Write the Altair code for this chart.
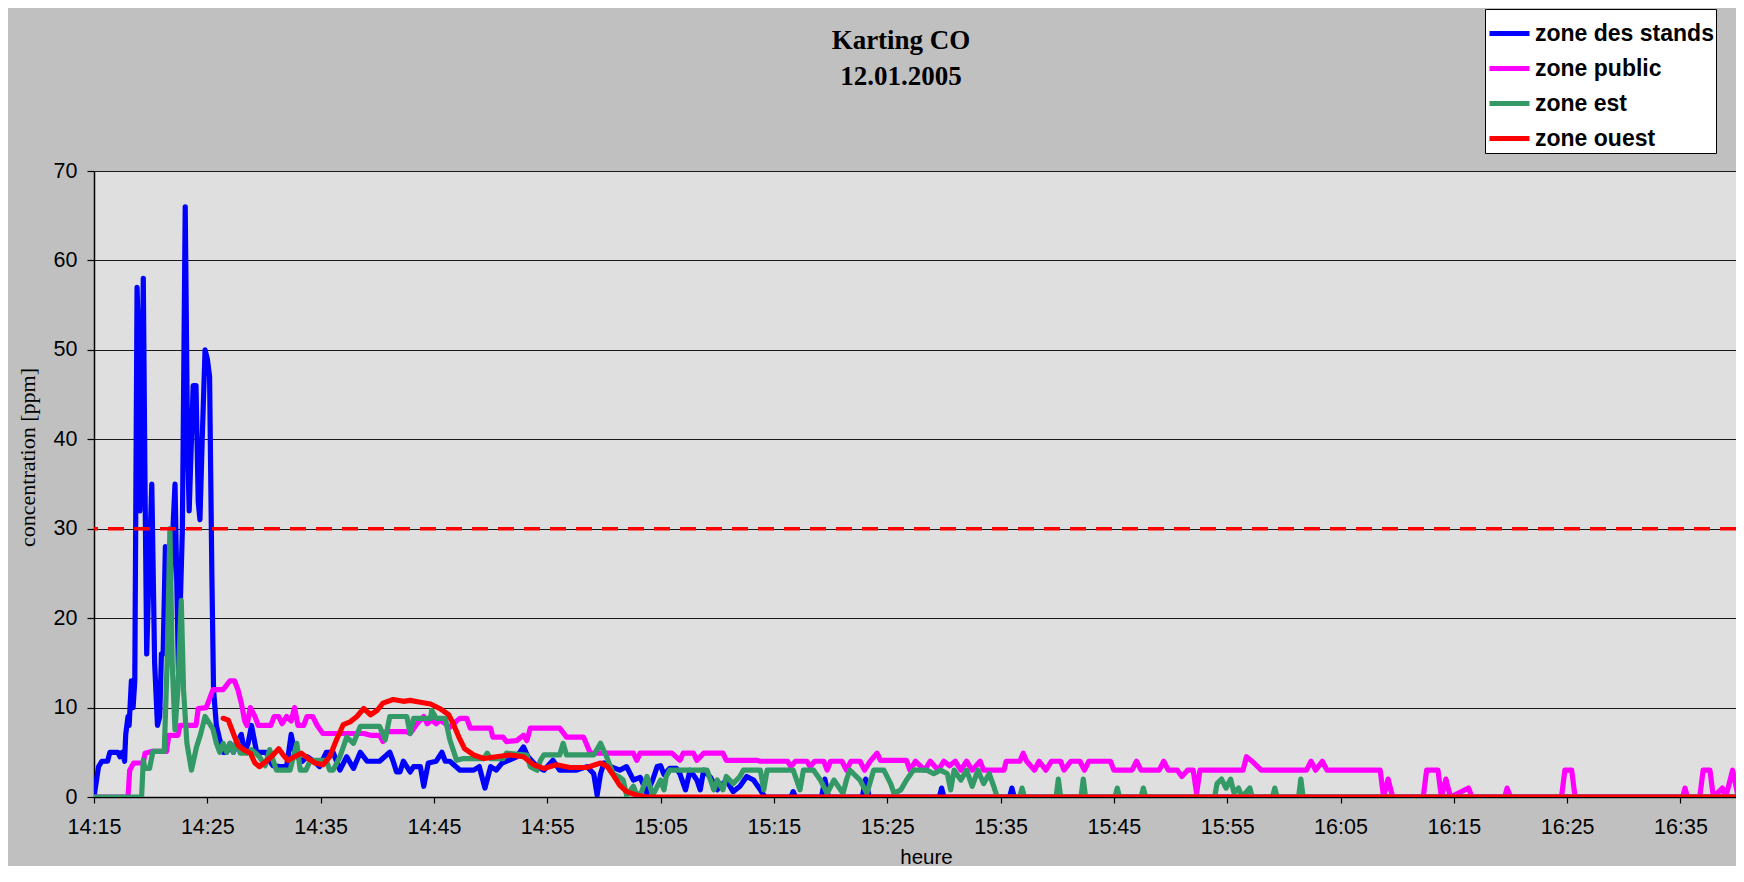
import altair as alt
import pandas as pd

series_names = ["zone des stands", "zone public", "zone est", "zone ouest"]
series_colors = ["#0000FF", "#FF00FF", "#339966", "#FF0000"]

# (minutes after 14:15, ppm)
stands = [(0,0),(0.4,3.4),(0.7,4),(1.2,4),(1.4,5),(2.1,5),(2.3,4.5),(2.5,5),(2.7,4),(2.8,7),(3.0,9),(3.1,8),
          (3.3,13),(3.45,10),(3.6,13),(3.8,57),(3.95,50),(4.05,32),(4.2,40),(4.35,58),(4.5,35),(4.65,16),(4.85,25),
          (5.1,35),(5.35,15),(5.6,8),(5.8,9),(5.95,16),(6.1,16),(6.3,28),(6.6,20),(7.15,35),(7.45,14),(7.8,30),
          (8.05,66),(8.25,40),(8.4,32),(8.6,40),(8.75,46),(9.0,46),(9.2,33),(9.35,31),(9.55,40),(9.8,50),(10.0,49),
          (10.2,47),(10.4,25),(10.55,12),(10.8,8),(11.1,6.4),(11.4,5),(11.7,5),(12.0,6),(12.3,5),(12.6,6),(13.0,7),
          (13.3,5),(13.6,6),(13.9,8),(14.2,6),(14.35,5),(15.2,5),(15.5,4),(15.8,3.5),(16.4,3.4),(17.0,3.4),(17.4,7),
          (17.7,5),(17.9,4.5),(18.4,4),(18.8,4.5),(19.4,4),(19.9,3.4),(20.5,5),(21.1,5),(21.7,3),(22.3,4.5),
          (22.9,3.2),(23.5,5),(24.1,4),(25.2,4),(26.1,5),(26.4,4),(26.7,2.8),(27.0,2.8),(27.3,4),(27.9,2.8),
          (28.2,3.4),(28.8,3.4),(29.1,1.2),(29.5,3.8),(30.2,4),(30.7,5),(31.0,4),(31.4,4),(32.3,3),(33.5,3),
          (34.0,3.4),(34.5,1),(35.0,3.4),(35.5,3),(36.0,3.8),(36.4,4),(37.3,4.5),(37.9,5.6),(38.3,4.5),(39.1,3.4),
          (39.7,3),(40.5,4.1),(41.1,3),(42.0,3),(42.6,3),(43.5,3.4),(44.1,2.6),(44.4,0.2),(44.7,2.6),(45.0,3.8),
          (45.6,3.4),(46.4,3),(47.0,3.4),(47.6,1.9),(48.2,2.2),(48.8,0.4),(49.3,1.9),(49.7,3.4),(50.0,3.5),
          (50.3,2.5),(50.8,3.2),(51.4,3.2),(51.7,2.6),(52.2,0.8),(52.6,3),(53.2,1.9),(53.5,0.8),(53.8,3),
          (54.4,2.2),(55.0,0.8),(55.8,1.9),(56.4,0.6),(57.0,1.2),(57.6,2.3),(58.2,1.9),(58.8,0.8),(59.2,0),
          (61.5,0),(61.7,0.6),(61.9,0),(64.2,0),(64.5,2),(64.8,0),(67.8,0),(68.1,2),(68.4,0),(74.6,0),(74.8,1),
          (75.0,0),(80.8,0),(81.0,1),(81.2,0),(145.6,0)]

public = [(0,0),(3.0,0),(3.15,3),(3.5,3.8),(4.35,3.8),(4.5,4.9),(5.1,5.1),(6.4,5.1),(6.6,6.9),(7.4,6.9),(7.6,8),
          (9.0,8),(9.2,9.9),(9.9,10),(10.2,11),(10.5,12),(11.4,12),(12.0,13),(12.4,13),(12.7,12),(13.0,10.5),
          (13.3,8.5),(13.5,8),(13.8,10),(14.2,9),(14.5,8),(15.6,8),(15.9,9),(16.3,9),(16.6,8.2),(17.0,9),(17.4,8.5),
          (17.7,10),(18.0,8),(18.5,8),(18.8,9),(19.3,9),(19.7,8),(20.2,7.1),(23.8,7.1),(24.4,6.9),(25.2,6.9),
          (25.5,6.2),(25.8,7.3),(27.6,7.3),(27.9,7.1),(28.5,8.2),(28.8,8.6),(29.1,9),(29.4,8.2),(29.8,8.6),
          (30.2,8.2),(30.5,8.6),(31.0,8.2),(31.4,7.8),(32.0,8.5),(32.3,8.8),(32.9,8.8),(33.2,7.7),(35.0,7.7),
          (35.2,6.7),(36.1,6.7),(36.4,6.2),(37.3,6.3),(37.9,6.9),(38.2,6.3),(38.5,7.7),(41.1,7.7),(41.7,6.7),
          (43.2,6.7),(43.8,4.9),(47.6,4.9),(47.9,4.1),(48.2,4.9),(51.0,4.9),(51.7,4.1),(52.0,4.9),(52.9,4.9),
          (53.2,4.1),(53.8,4.9),(55.5,4.9),(55.8,4.1),(58.5,4.1),(58.8,4),(61.2,4),(61.5,3.4),(61.9,4),(62.9,4),
          (63.2,3.4),(63.6,4),(64.4,4),(64.7,3),(65.0,4),(66.0,4),(66.4,3),(66.8,4),(67.6,4),(68.0,3),(68.5,4),
          (69.1,4.9),(69.4,4.1),(71.7,4.1),(72.0,3),(72.5,4),(73.3,3),(73.8,4),(74.5,3),(75.0,4),(75.5,3.5),
          (76.0,4),(76.5,3),(77.0,4),(77.5,3),(78.2,4),(78.5,3),(80.3,3),(80.5,4),(81.7,4),(82.0,4.9),(82.3,4),
          (83.0,3),(83.4,4),(84.0,3),(84.5,4),(85.3,4),(85.6,3),(86.2,4),(87.0,4),(87.4,3),(87.8,4),(89.7,4),
          (90.0,3),(91.6,3),(92.0,4),(92.4,3),(94.0,3),(94.4,4),(94.8,3),(95.6,3),(96.0,2.3),(96.5,3),(97.0,3),
          (97.3,0.4),(97.6,3),(101.4,3),(101.7,4.5),(102.2,4),(103.0,3),(107.0,3),(107.4,4),(107.8,3),(108.4,4),
          (108.8,3),(113.5,3),(113.8,0),(114.2,2),(114.6,0),(117.3,0),(117.6,3),(118.6,3),(118.9,0),(119.3,2),
          (119.7,0),(121.3,1),(121.6,0),(124.5,0),(124.7,1),(125.0,0),(129.5,0),(129.8,3),(130.4,3),(130.7,0),
          (140.2,0),(140.4,1),(140.6,0),(141.7,0),(142.0,3),(142.6,3),(142.9,0),(143.7,1),(144.0,0),(144.6,3),
          (145.1,0),(145.6,0)]

est = [(0,0),(4.2,0),(4.35,4.1),(4.5,3.2),(4.9,3.2),(5.2,5.1),(6.2,5.1),(6.45,15),(6.7,30),(6.9,15),(7.15,7.5),
       (7.4,12),(7.7,22),(7.9,12),(8.2,6),(8.6,3),(9.05,5.6),(9.4,7),(9.8,9),(10.2,8.2),(10.5,7.6),(10.8,6),
       (11.1,5),(11.4,6),(11.7,5),(12.0,6),(12.3,5),(12.6,6.4),(12.9,4.9),(13.5,4.9),(13.9,5.3),(14.6,4.5),
       (15.1,3.5),(15.5,5.3),(16.1,3),(17.3,3),(17.6,4.5),(17.9,6),(18.2,3),(18.7,3),(19.1,4.1),(20.5,4.1),
       (20.8,3),(21.1,3),(21.7,4.5),(22.3,6.7),(22.9,6),(23.5,7.9),(25.2,7.9),(25.7,6.4),(26.1,9),(27.6,9),
       (27.9,7.1),(28.2,8.8),(29.7,8.8),(29.8,9.7),(30.2,8.8),(31.0,8.8),(31.4,6.4),(32.0,4.1),(32.6,4.3),
       (34.4,4.3),(34.7,4.9),(35.0,4.3),(36.1,4.3),(36.4,4.9),(38.2,4.7),(38.5,3.4),(39.1,3),(39.4,4.1),
       (39.7,4.7),(41.1,4.7),(41.4,6),(41.7,4.7),(44.1,4.7),(44.7,6),(45.3,4.3),(45.8,2.6),(46.4,2.2),(46.7,1.9),
       (47.0,0.2),(47.6,1.2),(47.9,0.2),(48.3,0.5),(48.8,2.3),(49.3,0.2),(50.0,1.9),(50.3,0.8),(50.5,2.3),
       (50.8,3),(54.1,3),(54.4,1.9),(54.7,0.8),(55.0,1.9),(55.5,0.8),(55.8,2.3),(56.4,1.5),(57.0,2.3),(57.3,3),
       (58.8,3),(59.1,0.8),(59.4,3),(61.7,3),(62.0,1.9),(62.3,0.8),(62.6,3),(63.5,3),(64.1,1.9),(64.7,0.4),
       (65.3,1.9),(66.1,0.4),(66.4,1.9),(66.7,3),(67.6,1.9),(68.2,0.4),(68.8,3),(69.7,3),(70.3,1.5),(70.6,0.4),
       (71.2,0.8),(71.7,1.9),(72.3,3),(73.5,3),(74.1,2.6),(74.7,3),(75.3,2.6),(75.6,0.8),(75.9,3),(76.5,1.9),
       (77.0,3),(77.5,1.2),(78.0,3),(78.5,1.5),(79.0,2.6),(79.4,1.2),(79.7,0),(81.7,0),(81.9,1),(82.1,0),
       (84.9,0),(85.1,2),(85.3,0),(87.1,0),(87.3,2),(87.5,0),(90.1,0),(90.3,1),(90.5,0),(92.4,0),(92.6,1),
       (92.8,0),(98.9,0),(99.1,1.5),(99.5,2),(99.9,1),(100.3,2),(100.6,0.5),(101.0,1),(101.3,0),(102.0,1),
       (102.2,0),(104.0,0),(104.2,1),(104.4,0),(106.3,0),(106.5,2),(106.7,0),(145.6,0)]

ouest = [(11.4,8.8),(11.85,8.6),(12.3,7.1),(12.7,5.8),(13.2,5.3),(13.8,4.9),(14.2,3.8),(14.6,3.4),(15.2,4),
         (15.8,4.7),(16.3,5.4),(16.7,4.7),(17.1,4.1),(17.7,4.5),(18.3,4.9),(18.9,4.3),(19.5,3.8),(20.2,3.6),
         (20.8,4.5),(21.4,6.4),(22.0,8.1),(22.6,8.4),(23.2,9),(23.8,9.9),(24.4,9.2),(25.0,9.7),(25.5,10.5),
         (26.4,10.9),(27.3,10.7),(27.9,10.8),(28.8,10.6),(29.7,10.4),(30.5,9.9),(31.3,9.2),(31.7,8.2),(32.2,6.7),
         (32.7,5.4),(33.5,4.7),(34.4,4.3),(35.5,4.5),(36.7,4.7),(37.9,4.5),(38.8,3.6),(39.7,3.2),(40.8,3.6),
         (42.0,3.3),(43.5,3.3),(44.7,3.8),(45.3,3.4),(45.8,2.5),(46.4,1.3),(47.0,0.6),(47.9,0.2),(48.8,0),
         (145.6,0)]

threshold = [30]
tick_minutes = list(range(0, 141, 10))
y_ticks = list(range(0, 71, 10))

rows = []
for name, pts in zip(series_names, [stands, public, est, ouest]):
    for i, (t, v) in enumerate(pts):
        rows.append({"serie": name, "minute": t, "ppm": v, "i": i})
df = pd.DataFrame(rows)

color = alt.Color(
    "serie:N",
    scale=alt.Scale(domain=series_names, range=series_colors),
    legend=alt.Legend(
        title=None, orient="none", legendX=1391, legendY=-162,
        fillColor="white", strokeColor="black", padding=2,
        symbolType="stroke", symbolStrokeWidth=5, symbolSize=1600,
        labelFont="Liberation Sans", labelFontSize=23, labelFontWeight="bold",
        labelColor="black", labelLimit=400, labelOffset=3, rowPadding=0,
    ),
)

xenc = alt.X(
    "minute:Q",
    scale=alt.Scale(domain=[0, 144.9], nice=False, zero=False),
    axis=alt.Axis(
        values=tick_minutes,
        labelExpr="(14 + floor((datum.value + 15) / 60)) + ':' + ((datum.value + 15) % 60 < 10 ? '0' : '') + ((datum.value + 15) % 60)",
        title="heure", grid=False, tickSize=6, tickColor="black", tickWidth=1.2,
        domainColor="black", domainWidth=1.5,
        labelFont="Liberation Sans", labelFontSize=21.5, labelColor="black", labelPadding=13,
        labelFlush=False,
        titleFont="Liberation Sans", titleFontSize=20.5, titleFontWeight="normal", titleColor="black",
        titleX=832, titleY=60, titleBaseline="middle", titleAlign="center",
    ),
)
yenc = alt.Y(
    "ppm:Q",
    scale=alt.Scale(domain=[0, 70], nice=False),
    axis=alt.Axis(
        values=y_ticks, grid=True, gridColor="#1a1a1a", gridWidth=1.2,
        tickSize=7, tickColor="black", tickWidth=1.2, domainColor="black", domainWidth=1.5,
        labelFont="Liberation Sans", labelFontSize=21.5, labelColor="black", labelPadding=10,
        title="concentration [ppm]", titleFont="Liberation Serif", titleFontSize=22,
        titleFontWeight="normal", titleColor="black", titleX=-67, titleY=286,
        titleAngle=270, titleBaseline="middle", titleAlign="center",
    ),
)

layers = []
for name in series_names:
    layers.append(
        alt.Chart(df)
        .transform_filter(alt.datum.serie == name)
        .mark_line(strokeWidth=5.2, strokeJoin="round", strokeCap="round", clip=True)
        .encode(x=xenc, y=yenc, color=color, order="i:Q")
    )

rule = (
    alt.Chart(pd.DataFrame({"ppm": threshold}))
    .mark_rule(color="#FF0000", strokeWidth=3.5, strokeDash=[16, 10])
    .encode(y=alt.Y("ppm:Q"))
)

chart = (
    alt.layer(*layers, rule)
    .properties(
        width=1642, height=626,
        autosize=alt.AutoSizeParams(type="none"),
        padding={"left": 86, "top": 163, "right": 0, "bottom": 69},
        background="#C0C0C0",
        title=alt.Title(
            ["Karting CO", "12.01.2005"], font="Liberation Serif", fontSize=27,
            fontWeight="bold", color="black", anchor="middle", offset=0, dx=-14, dy=82,
            lineHeight=36,
        ),
    )
    .configure_view(fill="#DFDFDF", strokeWidth=0)
)

chart.save("out.html", embed_options={"renderer": "svg", "actions": False})
